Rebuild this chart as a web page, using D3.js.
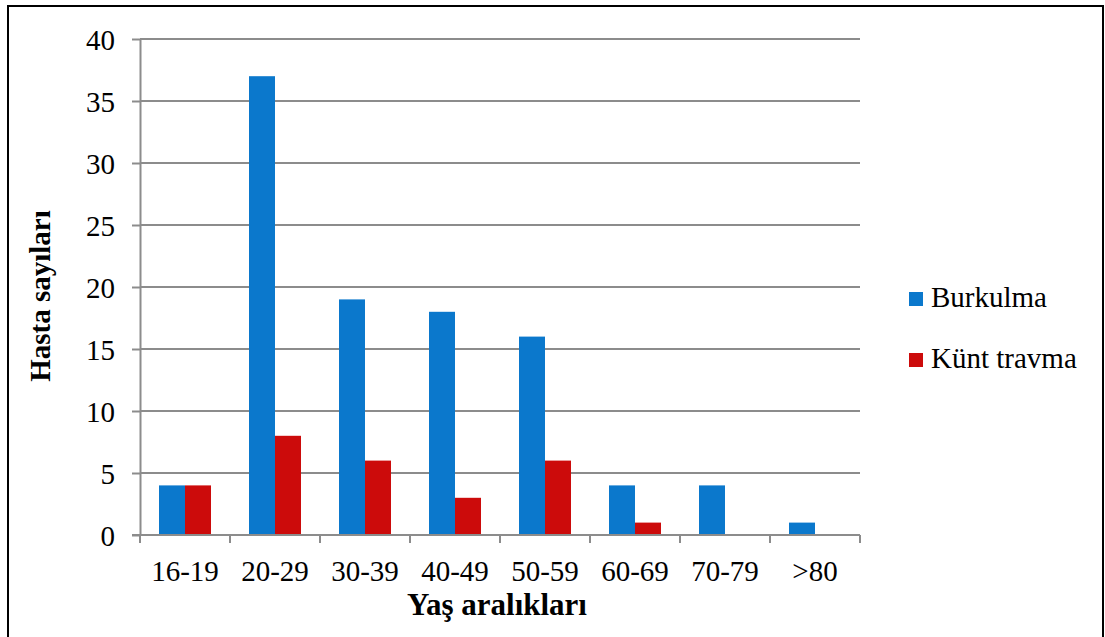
<!DOCTYPE html>
<html>
<head>
<meta charset="utf-8">
<script src="https://cdn.jsdelivr.net/npm/d3@7"></script>
<style>
  html, body { margin: 0; padding: 0; background: #fff; }
  svg { display: block; }
  svg text { font-family: "Liberation Serif", "Times New Roman", serif !important; fill: #000; }
</style>
</head>
<body>
<svg id="chart" width="1105" height="637"></svg>
<script>
// Hasta sayıları, yaş aralıklarına göre
const categories = ["16-19", "20-29", "30-39", "40-49", "50-59", "60-69", "70-79", ">80"];
const burkulma = [4, 37, 19, 18, 16, 4, 4, 1];
const kuntTravma = [4, 8, 6, 3, 6, 1, 0, 0];
const seriesNames = ["Burkulma", "Künt travma"];
const seriesColors = ["#0B78CC", "#CC0B0B"];
const yTicks = [0, 5, 10, 15, 20, 25, 30, 35, 40];

const svg = d3.select("#chart");
const serif = "'Liberation Serif', 'Times New Roman', serif";

// Outer frame
svg.append("rect")
  .attr("x", 8).attr("y", 6)
  .attr("width", 1095).attr("height", 640)
  .attr("fill", "none").attr("stroke", "#000").attr("stroke-width", 2);

const plot = { left: 140, right: 860, top: 39, bottom: 535 };

const x = d3.scaleBand().domain(categories).range([plot.left, plot.right]);
const y = d3.scaleLinear().domain([0, 40]).range([plot.bottom, plot.top]);
const barW = 26;
const xSeries = d3.scaleBand().domain(seriesNames).range([0, barW * 2]);

const gridColor = "#8c8c8c";

// Horizontal gridlines
svg.append("g")
  .selectAll("line")
  .data(yTicks.filter(d => d > 0))
  .join("line")
  .attr("x1", plot.left).attr("x2", plot.right)
  .attr("y1", d => y(d)).attr("y2", d => y(d))
  .attr("stroke", gridColor).attr("stroke-width", 2);

// Y axis
const yAxis = svg.append("g")
  .attr("transform", `translate(${plot.left},0)`)
  .call(d3.axisLeft(y).tickValues(yTicks).tickSize(8).tickPadding(17).tickSizeOuter(0));
yAxis.attr("font-family", serif);
yAxis.select(".domain").attr("stroke", gridColor).attr("stroke-width", 2);
yAxis.selectAll(".tick line").attr("stroke", gridColor).attr("stroke-width", 2);
yAxis.selectAll(".tick text")
  .style("font-family", serif)
  .attr("font-size", 29).attr("fill", "#000")
  .attr("dy", "0.36em");

// Bars
const rows = categories.map((c, i) => ({ cat: c, vals: [burkulma[i], kuntTravma[i]] }));
const groups = svg.append("g")
  .selectAll("g")
  .data(rows)
  .join("g")
  .attr("transform", d => `translate(${x(d.cat) + (x.bandwidth() - barW * 2) / 2},0)`);

groups.selectAll("rect")
  .data(d => d.vals.map((v, i) => ({ name: seriesNames[i], v, color: seriesColors[i] })))
  .join("rect")
  .filter(d => d.v > 0)
  .attr("x", d => xSeries(d.name))
  .attr("width", xSeries.bandwidth())
  .attr("y", d => y(d.v))
  .attr("height", d => y(0) - y(d.v))
  .attr("fill", d => d.color);

// X axis with ticks at category boundaries
const boundaries = categories.map(c => x(c)).concat([plot.right]);
svg.append("line")
  .attr("x1", plot.left - 8).attr("x2", plot.right)
  .attr("y1", plot.bottom).attr("y2", plot.bottom)
  .attr("stroke", gridColor).attr("stroke-width", 2);
svg.append("g")
  .selectAll("line")
  .data(boundaries)
  .join("line")
  .attr("x1", d => d).attr("x2", d => d)
  .attr("y1", plot.bottom).attr("y2", plot.bottom + 8)
  .attr("stroke", gridColor).attr("stroke-width", 2);

svg.append("g")
  .selectAll("text")
  .data(categories)
  .join("text")
  .style("font-family", serif)
  .attr("x", d => x(d) + x.bandwidth() / 2)
  .attr("y", 581)
  .attr("text-anchor", "middle")
  .attr("font-size", 29)
  .text(d => d);

// Axis titles
svg.append("text")
  .style("font-family", serif)
  .attr("x", 497).attr("y", 615)
  .attr("text-anchor", "middle")
  .attr("font-size", 31).attr("font-weight", "bold")
  .text("Yaş aralıkları");

svg.append("text")
  .style("font-family", serif)
  .attr("transform", "translate(50,296) rotate(-90)")
  .attr("text-anchor", "middle")
  .attr("font-size", 29).attr("font-weight", "bold")
  .text("Hasta sayıları");

// Legend
const legend = svg.append("g")
  .selectAll("g")
  .data(seriesNames)
  .join("g")
  .attr("transform", (d, i) => `translate(909,${292 + i * 61})`);
legend.append("rect")
  .attr("width", 14).attr("height", 14)
  .attr("fill", (d, i) => seriesColors[i]);
legend.append("text")
  .style("font-family", serif)
  .attr("x", 22).attr("y", 15)
  .attr("font-size", 29)
  .text(d => d);
</script>
</body>
</html>
